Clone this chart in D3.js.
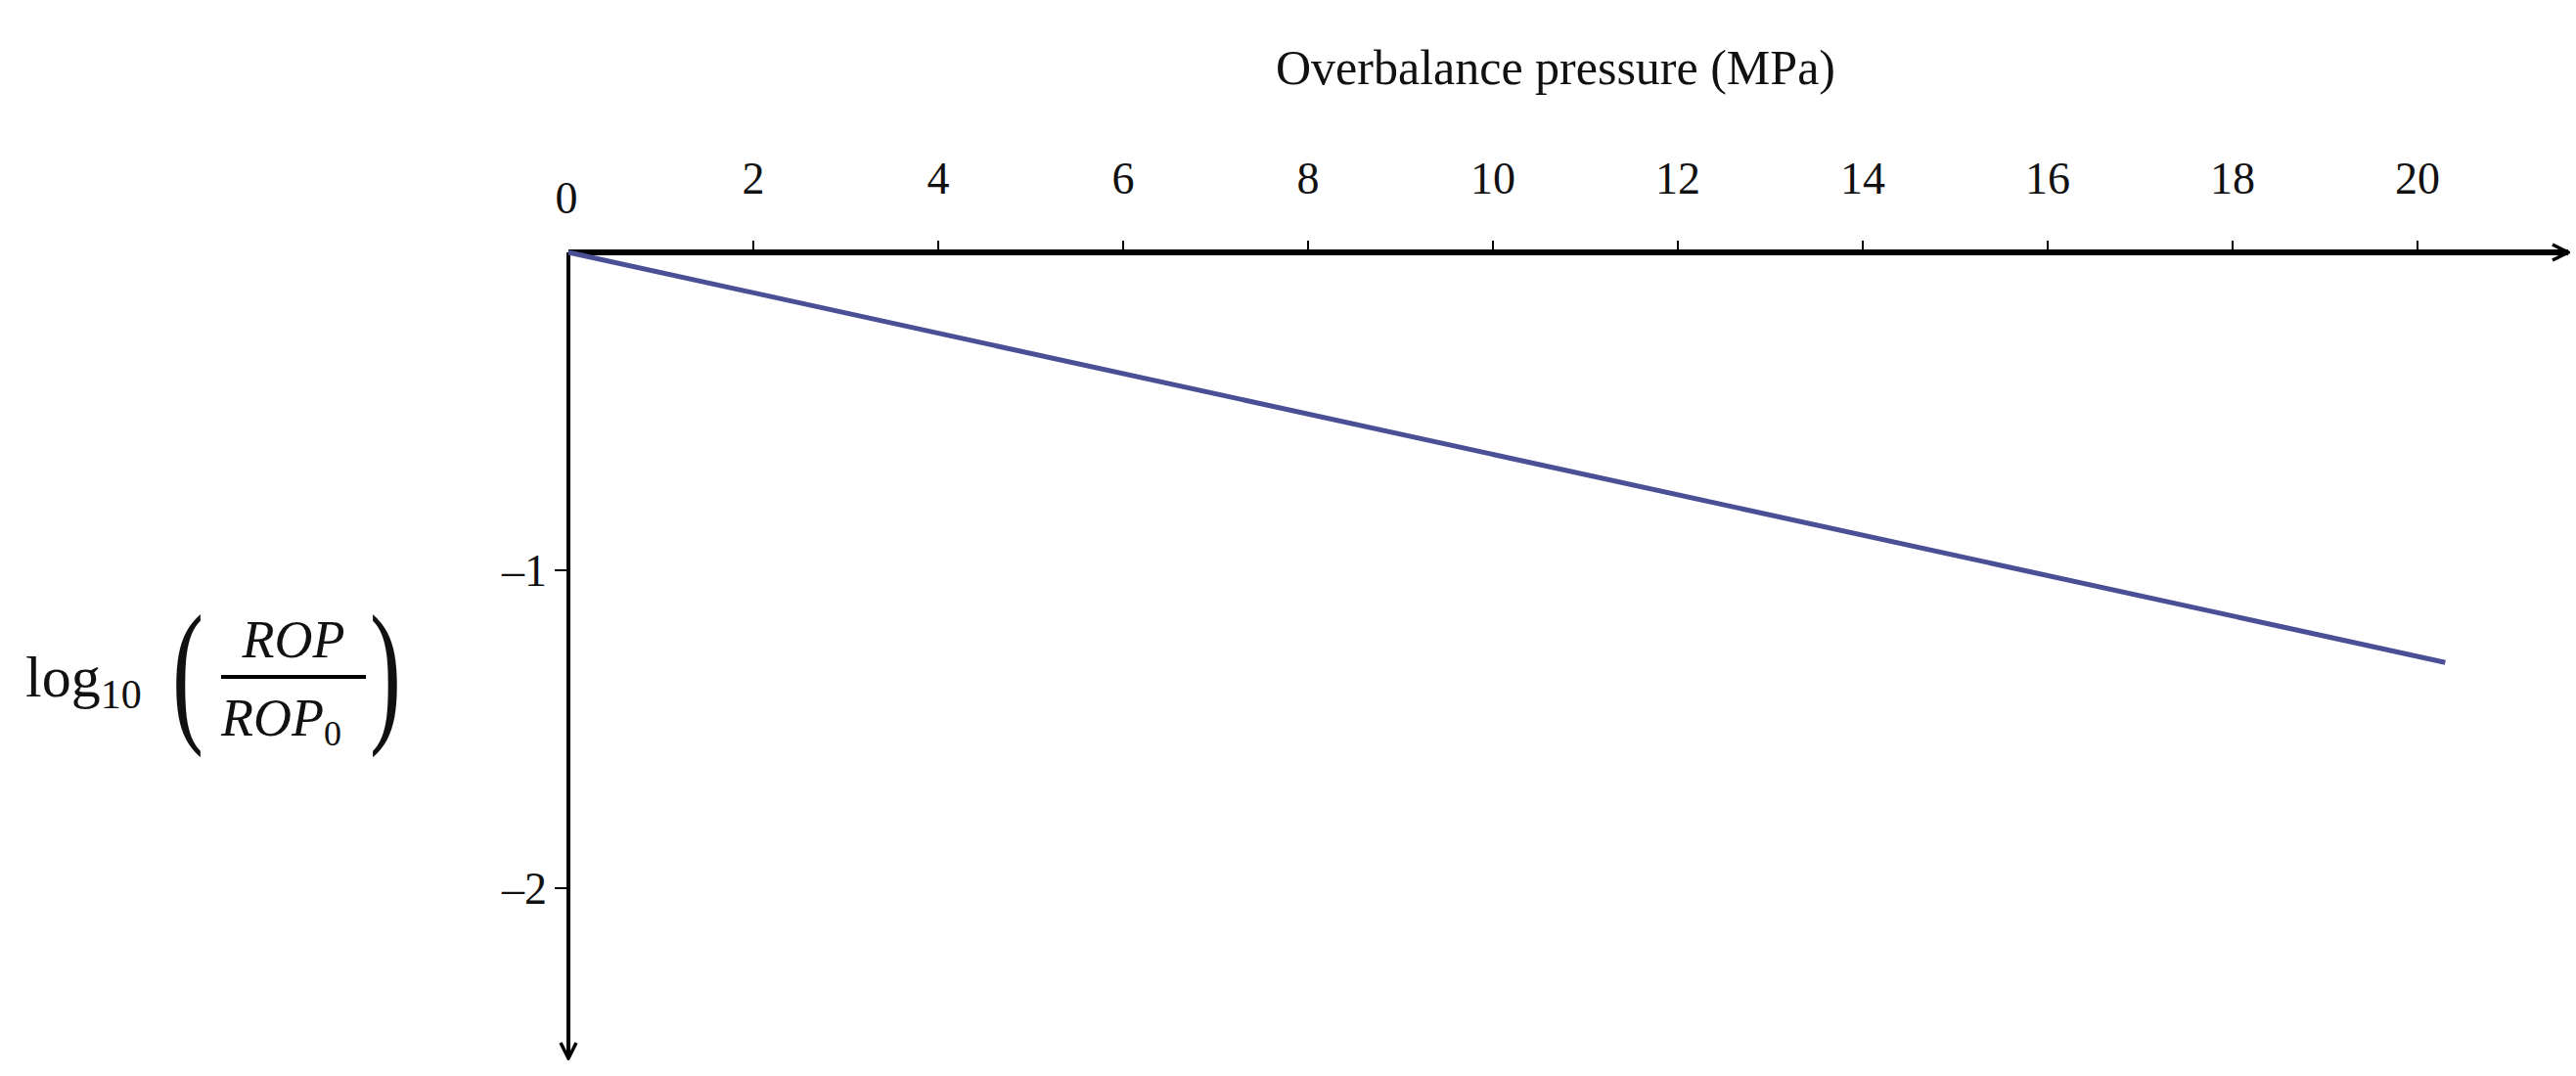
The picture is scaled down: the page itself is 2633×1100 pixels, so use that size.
<!DOCTYPE html>
<html><head><meta charset="utf-8">
<script src="https://cdn.jsdelivr.net/npm/d3@7"></script>
<style>body{margin:0;background:#fff}text{font-family:"Liberation Serif","DejaVu Serif",serif;fill:#111}</style>
</head><body><svg id="chart" width="2633" height="1100"></svg>
<script>
// data
const pressure = [0, 20.3];
const logRatio = [0, -1.29];
const xTicks = [0, 2, 4, 6, 8, 10, 12, 14, 16, 18, 20];
const yTicks = [-1, -2];

const svg = d3.select("#chart");
const x = d3.scaleLinear().domain([0, 20]).range([581, 2471]);
const y = d3.scaleLinear().domain([0, -2]).range([258, 908]);

svg.append("defs").append("marker").attr("id", "arr")
    .attr("viewBox", "0 0 20 20").attr("refX", 18).attr("refY", 10)
    .attr("markerWidth", 20).attr("markerHeight", 20).attr("markerUnits", "userSpaceOnUse")
    .attr("orient", "auto")
    .append("path").attr("d", "M2,2 L18,10 L2,18").attr("fill", "none").attr("stroke", "#000").attr("stroke-width", 3.5);

// axes
svg.append("line").attr("x1", x(0)).attr("y1", y(0)).attr("x2", 2625).attr("y2", y(0))
    .attr("stroke", "#000").attr("stroke-width", 6).attr("marker-end", "url(#arr)");
svg.append("line").attr("x1", x(0)).attr("y1", y(0)).attr("x2", x(0)).attr("y2", 1082)
    .attr("stroke", "#000").attr("stroke-width", 4).attr("marker-end", "url(#arr)");

svg.selectAll(".xt").data(xTicks.filter(d => d > 0)).enter().append("line")
    .attr("x1", d => x(d)).attr("x2", d => x(d)).attr("y1", y(0) - 12).attr("y2", y(0))
    .attr("stroke", "#000").attr("stroke-width", 2);
svg.selectAll(".xl").data(xTicks).enter().append("text")
    .attr("x", d => x(d) - (d == 0 ? 2 : 0)).attr("y", d => d == 0 ? 218 : 198)
    .attr("text-anchor", "middle").attr("font-size", 46).text(d => d);

svg.selectAll(".yt").data(yTicks).enter().append("line")
    .attr("x1", x(0) - 14).attr("x2", x(0)).attr("y1", d => y(d)).attr("y2", d => y(d))
    .attr("stroke", "#000").attr("stroke-width", 2);
svg.selectAll(".yl").data(yTicks).enter().append("text")
    .attr("x", x(0) - 22).attr("y", d => y(d) + 16)
    .attr("text-anchor", "end").attr("font-size", 46).text(d => "\u2013" + Math.abs(d));

// series
svg.append("path").datum(pressure.map((p, i) => [p, logRatio[i]]))
    .attr("d", d3.line().x(d => x(d[0])).y(d => y(d[1])))
    .attr("stroke", "#4a4f96").attr("stroke-width", 5).attr("fill", "none");

// titles
svg.append("text").attr("x", 1590).attr("y", 86).attr("text-anchor", "middle")
    .attr("font-size", 50).text("Overbalance pressure (MPa)");

const g = svg.append("g").attr("transform", "translate(0,692)");
g.append("text").attr("x", 26).attr("y", 20).attr("font-size", 60)
    .html('log<tspan font-size="42" dy="12">10</tspan>');
g.append("text").attr("y", 48).attr("font-size", 160).attr("font-weight", 200)
    .attr("transform", "scale(0.6,1)").attr("x", 176 / 0.6).text("(");
g.append("text").attr("x", 300).attr("y", -20).attr("text-anchor", "middle")
    .attr("font-size", 54).attr("font-style", "italic").text("ROP");
g.append("line").attr("x1", 226).attr("x2", 374).attr("y1", 0).attr("y2", 0).attr("stroke", "#000").attr("stroke-width", 4);
g.append("text").attr("x", 226).attr("y", 60).attr("font-size", 54).attr("font-style", "italic")
    .html('ROP<tspan font-size="36" dy="10" font-style="normal">0</tspan>');
g.append("text").attr("y", 48).attr("font-size", 160).attr("font-weight", 200)
    .attr("transform", "scale(0.6,1)").attr("x", 378 / 0.6).text(")");
</script></body></html>
